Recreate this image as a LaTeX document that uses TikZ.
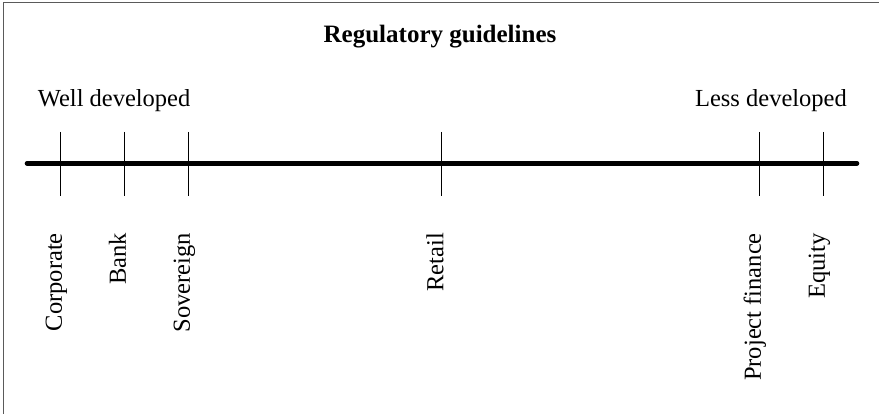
\documentclass[tikz,border=0pt]{standalone}
\usepackage{fontspec}
\setmainfont{Liberation Serif}
\usetikzlibrary{positioning}
\definecolor{framegray}{RGB}{90,90,90}

\begin{document}
\begin{tikzpicture}[x=1pt,y=-1pt,
  txt/.style={inner sep=0pt, font=\fontsize{24.5}{29}\selectfont},
  sector/.style={txt, rotate=90, anchor=base east}]
  \useasboundingbox (0,0) rectangle (879,414);
  \draw[framegray, line width=1pt] (3,414) -- (3,3) -- (879,3);
  % title and the two ends of the scale
  \node[txt, font=\fontsize{25}{29}\selectfont\bfseries, anchor=base] (title) at (440,42.3) {Regulatory guidelines};
  \node[txt, anchor=base west] (well) at (37.7,106.6) {Well developed};
  \node[txt, anchor=base east] (less) at (847,106.6) {Less developed};
  \coordinate (axisL) at (27,163.3);
  \coordinate (axisR) at (857,163.3);
  \draw[line width=4.6pt, line cap=round] (axisL) -- (axisR);
  % ticks with rotated labels
  \foreach \x/\name/\lab in {60.3/corp/Corporate, 124.3/bank/Bank, 188.3/sov/Sovereign,
      441.7/retail/Retail, 759.3/proj/Project finance, 823.3/equity/Equity}{
    \coordinate (\name-top) at (\x,132);
    \coordinate (\name-bot) at (\x,196);
    \draw[line width=0.9pt] (\name-top) -- (\name-bot);
    \node[sector] (\name) at (\x+1.6,233) {\lab};
  }
\end{tikzpicture}
\end{document}
